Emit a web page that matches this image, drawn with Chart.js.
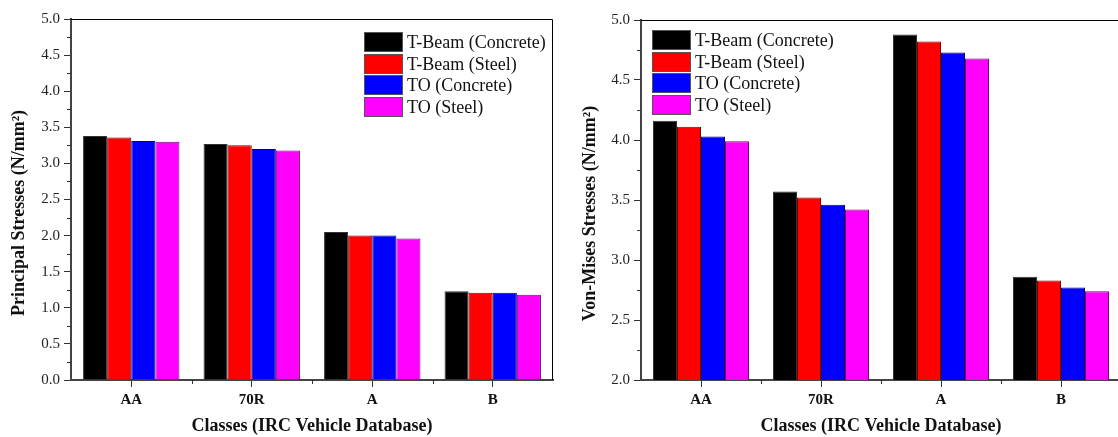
<!DOCTYPE html>
<html>
<head>
<meta charset="utf-8">
<script src="https://cdn.jsdelivr.net/npm/chart.js@4.4.0/dist/chart.umd.min.js"></script>
<style>
html, body { margin: 0; padding: 0; background: #fff; overflow: hidden; width: 1118px; height: 437px; }
#left { position: absolute; left: 0; top: 0; width: 560px; height: 437px; }
#right { position: absolute; left: 560px; top: 0; width: 570px; height: 437px; }
</style>
</head>
<body>
<div id="left"><canvas id="principal"></canvas></div>
<div id="right"><canvas id="vonmises"></canvas></div>
<script>
// categories and series names
var classes = ['AA', '70R', 'A', 'B'];
var seriesNames = ['T-Beam (Concrete)', 'T-Beam (Steel)', 'TO (Concrete)', 'TO (Steel)'];

// principal stresses (N/mm2)
var principalTBeamConcrete = [3.38, 3.27, 2.05, 1.23];
var principalTBeamSteel = [3.36, 3.25, 2.00, 1.21];
var principalTOConcrete = [3.31, 3.20, 2.00, 1.21];
var principalTOSteel = [3.30, 3.18, 1.96, 1.18];

// von-mises stresses (N/mm2)
var vonTBeamConcrete = [4.16, 3.57, 4.88, 2.86];
var vonTBeamSteel = [4.11, 3.52, 4.82, 2.83];
var vonTOConcrete = [4.03, 3.46, 4.73, 2.77];
var vonTOSteel = [3.99, 3.42, 4.68, 2.74];

var fills = ['#000000', '#ff0000', '#0000ff', '#ff00ff'];
var edges = ['#333333', '#7a0000', '#00007a', '#7a007a'];
var serif = '"Liberation Serif", "Times New Roman", serif';

// frame, minor ticks and the legend inside the plot
var extras = {
    id: 'extras',
    afterDraw: function (chart, args, opts) {
        var ctx = chart.ctx;
        var a = chart.chartArea;
        var x = chart.scales.x;
        var y = chart.scales.y;
        ctx.save();

        ctx.strokeStyle = '#000';
        ctx.lineWidth = 1;
        ctx.beginPath();
        ctx.moveTo(a.left, a.top + 0.5);
        ctx.lineTo(a.right - 0.5, a.top + 0.5);
        ctx.lineTo(a.right - 0.5, a.bottom);
        ctx.stroke();

        ctx.strokeStyle = '#333';
        ctx.beginPath();
        var n = Math.round((y.max - y.min) / 0.5);
        for (var k = 0; k < n; k++) {
            var py = Math.round(y.getPixelForValue(y.min + (k + 0.5) * 0.5)) + 0.5;
            ctx.moveTo(a.left - 4, py);
            ctx.lineTo(a.left, py);
        }
        for (var i = 1; i < classes.length; i++) {
            var px = Math.round(x.getPixelForValue(i - 0.5)) + 0.5;
            ctx.moveTo(px, a.bottom);
            ctx.lineTo(px, a.bottom + 4);
        }
        ctx.stroke();

        var lg = opts.legend;
        ctx.font = '18px ' + serif;
        ctx.textBaseline = 'middle';
        ctx.textAlign = 'left';
        chart.data.datasets.forEach(function (ds, j) {
            var top = Math.round(lg.y + j * lg.row);
            ctx.fillStyle = ds.backgroundColor;
            ctx.fillRect(lg.x, top, 39, 20);
            ctx.strokeStyle = '#555';
            ctx.strokeRect(lg.x + 0.5, top + 0.5, 38, 19);
            ctx.fillStyle = '#111';
            ctx.fillText(ds.label, lg.x + 43, top + 11);
        });
        ctx.restore();
    }
};

function makeChart(id, series, yMin, yMax, yTitle, opt) {
    var datasets = series.map(function (values, i) {
        return {
            label: seriesNames[i],
            data: values,
            backgroundColor: fills[i],
            borderColor: edges[i],
            borderWidth: 1,
            categoryPercentage: 0.8,
            barPercentage: 1.0
        };
    });
    return new Chart(document.getElementById(id).getContext('2d'), {
        type: 'bar',
        data: { labels: classes, datasets: datasets },
        plugins: [extras],
        options: {
            responsive: true,
            maintainAspectRatio: false,
            animation: false,
            layout: { padding: { top: opt.top, right: opt.right, left: 0, bottom: 0 } },
            plugins: {
                legend: { display: false },
                tooltip: { enabled: false },
                extras: { legend: opt.legend }
            },
            scales: {
                x: {
                    offset: true,
                    grid: { offset: false, drawOnChartArea: false, drawTicks: true, tickLength: 7, color: '#333' },
                    border: { display: true, color: '#444', width: 2 },
                    ticks: { color: '#111', padding: 4, font: { family: serif, size: 15, weight: 'bold' } },
                    title: {
                        display: true,
                        text: 'Classes (IRC Vehicle Database)',
                        color: '#111',
                        padding: { top: 0, bottom: 0 },
                        font: { family: serif, size: 18, weight: 'bold' }
                    },
                    afterFit: function (scale) { scale.height = 57; }
                },
                y: {
                    min: yMin,
                    max: yMax,
                    grid: { drawOnChartArea: false, drawTicks: true, tickLength: 7, color: '#333' },
                    border: { display: true, color: '#444', width: 2 },
                    ticks: {
                        stepSize: 0.5,
                        color: '#222',
                        padding: 4,
                        font: { family: serif, size: 15 },
                        callback: function (v) { return Number(v).toFixed(1); }
                    },
                    title: {
                        display: true,
                        text: yTitle,
                        color: '#111',
                        padding: { top: opt.titlePad, bottom: 0 },
                        font: { family: serif, size: 18, weight: 'bold' }
                    },
                    afterFit: function (scale) { scale.width = opt.axisX; }
                }
            }
        }
    });
}

makeChart('principal',
    [principalTBeamConcrete, principalTBeamSteel, principalTOConcrete, principalTOSteel],
    0, 5, 'Principal Stresses (N/mm²)      ',
    { top: 19, right: 7, axisX: 71, titlePad: 9, legend: { x: 364, y: 32, row: 21.7 } });

makeChart('vonmises',
    [vonTBeamConcrete, vonTBeamSteel, vonTOConcrete, vonTOSteel],
    2, 5, 'Von-Mises Stresses (N/mm²)      ',
    { top: 20, right: 9, axisX: 81, titlePad: 20, legend: { x: 92, y: 30, row: 21.7 } });
</script>
</body>
</html>
